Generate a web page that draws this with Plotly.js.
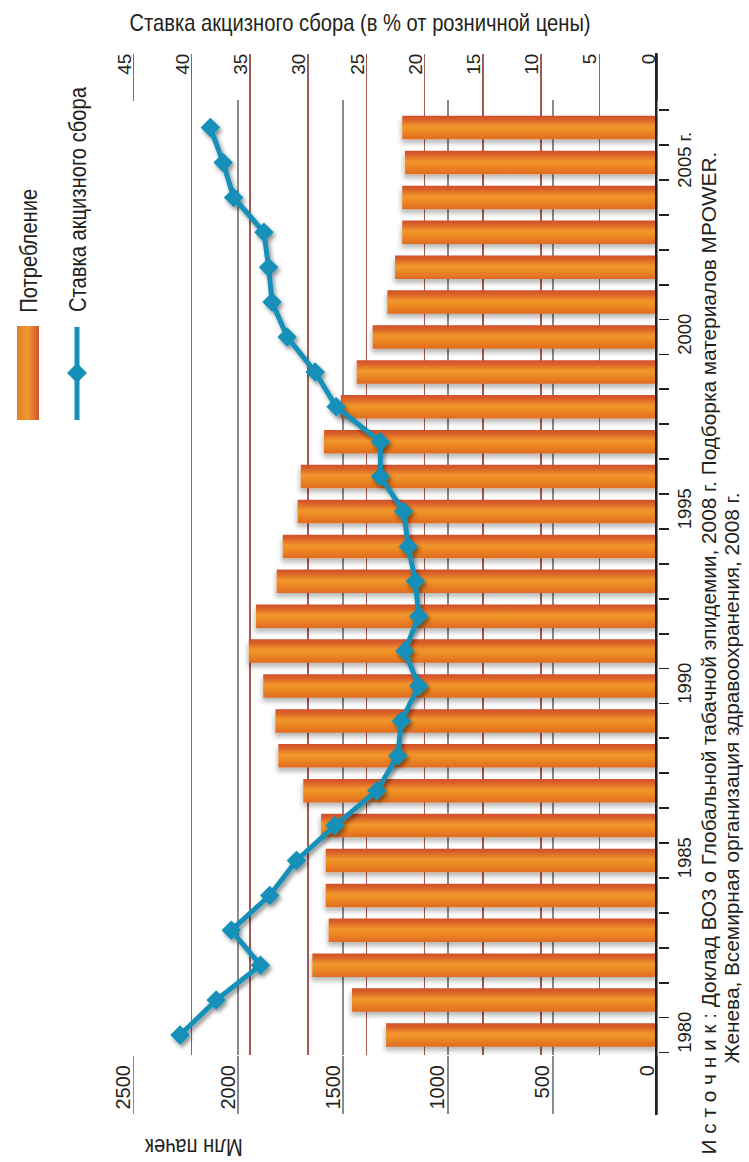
<!DOCTYPE html>
<html>
<head>
<meta charset="utf-8">
<script src="https://cdn.plot.ly/plotly-3.0.1.min.js"></script>
<style>
  html, body { margin: 0; padding: 0; background: #ffffff; }
  #chart { width: 749px; height: 1162px; }
</style>
</head>
<body>
<div id="chart"></div>
<script>
// Cigarette consumption (million packs) and excise tax (% of retail price), 1980–2006
const years = [1980, 1981, 1982, 1983, 1984, 1985, 1986, 1987, 1988, 1989,
               1990, 1991, 1992, 1993, 1994, 1995, 1996, 1997, 1998, 1999,
               2000, 2001, 2002, 2003, 2004, 2005, 2006];
const consumption = [1295, 1458, 1647, 1569, 1583, 1583, 1605, 1690, 1809, 1823,
                     1881, 1950, 1916, 1817, 1788, 1717, 1702, 1591, 1511, 1435,
                     1359, 1289, 1252, 1218, 1218, 1205, 1218];
const exciseRate = [41.0, 37.9, 34.1, 36.6, 33.3, 31.0, 27.7, 24.1, 22.3, 22.0,
                    20.5, 21.7, 20.5, 20.8, 21.4, 21.8, 23.8, 23.8, 27.6, 29.4,
                    31.8, 33.1, 33.4, 33.8, 36.4, 37.3, 38.4];

const yearTickVals = [1980, 1985, 1990, 1995, 2000, 2005];
const yearTickText = ['1980', '1985', '1990', '1995', '2000', '2005 г.'];
const packTicks = [0, 500, 1000, 1500, 2000, 2500];
const rateTicks = [0, 5, 10, 15, 20, 25, 30, 35, 40, 45];

const seriesNames = ['Потребление', 'Ставка акцизного сбора'];
const titleText = 'Ставка акцизного сбора (в % от розничной цены)';
const packAxisTitle = 'Млн пачек';
const sourceLine1 = 'И с т о ч н и к : Доклад ВОЗ о Глобальной табачной эпидемии, 2008 г. Подборка материалов MPOWER.';
const sourceLine2 = 'Женева, Всемирная организация здравоохранения, 2008 г.';

// ---- page geometry (pixels) ----
const W = 749, H = 1162;
const py = v => 1 - v / H;          // page y (px) -> paper fraction
const pxX = v => v / W;             // page x (px) -> paper fraction
const plotLeft = 133.5, plotRight = 657.5, plotTop = 100, plotBottom = 1055;
const rowStep = 34.9, firstRowCenter = 1035;   // vertical spacing of the year rows
const yRange = [years[0] - (plotBottom - firstRowCenter) / rowStep,
                years[0] + (firstRowCenter - plotTop) / rowStep];

const ink = '#231f20';
const gridGrey = '#8a8a8a';
const gridRed = '#a45a54';
const teal = '#1290b8';
const sans = '"Liberation Sans", Arial, sans-serif';
const condensedFactor = 0.84;       // horizontal squeeze for the condensed captions

const bars = {
  type: 'bar', orientation: 'h', name: seriesNames[0],
  x: consumption, y: years, width: 0.673,
  xaxis: 'x', yaxis: 'y',
  marker: { color: '#e8782a', line: { width: 0 } },
  hoverinfo: 'skip'
};

const rateLine = {
  type: 'scatter', mode: 'lines+markers', name: seriesNames[1],
  x: exciseRate, y: years,
  xaxis: 'x2', yaxis: 'y',
  line: { color: teal, width: 5 },
  marker: { symbol: 'diamond', size: 15, color: teal },
  hoverinfo: 'skip'
};

// legend diamond outline in paper units
const dC = { x: 77, y: 373 }, dR = 9.5;
const diamondPath = 'M ' + pxX(dC.x) + ',' + py(dC.y - dR) +
                    ' L ' + pxX(dC.x + dR) + ',' + py(dC.y) +
                    ' L ' + pxX(dC.x) + ',' + py(dC.y + dR) +
                    ' L ' + pxX(dC.x - dR) + ',' + py(dC.y) + ' Z';

const captionFont = { family: sans, size: 24, color: ink };

const layout = {
  width: W, height: H,
  margin: { l: 0, r: 0, t: 0, b: 0 },
  paper_bgcolor: '#ffffff', plot_bgcolor: '#ffffff',
  showlegend: false, hovermode: false, barmode: 'overlay',
  font: { family: sans, color: ink },
  title: {
    text: titleText, font: captionFont,
    x: pxX(360), xanchor: 'center', xref: 'paper',
    y: py(23), yanchor: 'middle'
  },
  xaxis: {
    domain: [pxX(plotLeft), pxX(plotRight)], anchor: 'y', side: 'bottom',
    range: [2500, 0], tickmode: 'array', tickvals: packTicks,
    showgrid: true, gridcolor: gridGrey, gridwidth: 1.8,
    zeroline: false, showline: false,
    ticks: 'outside', ticklen: 58, tickwidth: 1.8, tickcolor: gridGrey,
    tickangle: -90, tickfont: { family: sans, size: 20, color: ink },
    ticklabelstandoff: -57, ticklabelshift: 10,
    fixedrange: true
  },
  xaxis2: {
    overlaying: 'x', anchor: 'free', position: py(53), side: 'bottom',
    range: [45, 0], tickmode: 'array', tickvals: rateTicks,
    showgrid: true, gridcolor: gridRed, gridwidth: 1.5,
    zeroline: false, showline: false,
    ticks: 'outside', ticklen: 47, tickwidth: 1.5, tickcolor: gridRed,
    tickangle: -90, tickfont: { family: sans, size: 19, color: ink },
    ticklabelstandoff: -55, ticklabelshift: 9,
    fixedrange: true
  },
  yaxis: {
    domain: [py(plotBottom), py(plotTop)], anchor: 'x', side: 'right',
    range: yRange, showgrid: false, zeroline: false, showline: false,
    tickmode: 'array', tickvals: yearTickVals, ticktext: yearTickText,
    ticks: '', tickangle: -90,
    tickfont: { family: sans, size: 18.5, color: ink },
    ticklabelstandoff: 14,
    minor: { ticks: 'outside', ticklen: 10, tickwidth: 1.8, tickcolor: ink,
             tickmode: 'linear', tick0: years[0] - 0.5, dtick: 1, showgrid: false },
    fixedrange: true
  },
  shapes: [
    // category axis line
    { type: 'line', xref: 'x', yref: 'paper', x0: 0, x1: 0, y0: py(1115), y1: py(53),
      line: { color: ink, width: 5 }, layer: 'above' },
    // legend: consumption swatch
    { type: 'rect', xref: 'paper', yref: 'paper',
      x0: pxX(17), x1: pxX(39), y0: py(420), y1: py(326),
      fillcolor: 'rgb(232,128,31)', line: { width: 0 } },
    // legend: excise rate line + diamond
    { type: 'line', xref: 'paper', yref: 'paper',
      x0: pxX(77), x1: pxX(77), y0: py(420), y1: py(327),
      line: { color: teal, width: 5 } },
    { type: 'path', xref: 'paper', yref: 'paper', path: diamondPath,
      fillcolor: teal, line: { color: teal, width: 1 } }
  ],
  annotations: [
    { text: seriesNames[0], xref: 'paper', yref: 'paper', x: pxX(28), y: py(250.5),
      xanchor: 'center', yanchor: 'middle', textangle: -90, showarrow: false,
      font: captionFont },
    { text: seriesNames[1], xref: 'paper', yref: 'paper', x: pxX(77), y: py(199.5),
      xanchor: 'center', yanchor: 'middle', textangle: -90, showarrow: false,
      font: captionFont },
    { text: packAxisTitle, xref: 'paper', yref: 'paper', x: pxX(194), y: py(1161),
      xanchor: 'center', yanchor: 'bottom', textangle: 180, showarrow: false,
      borderpad: 0, borderwidth: 0, font: captionFont },
    { text: sourceLine1, xref: 'paper', yref: 'paper', x: pxX(708), y: py(1157),
      xanchor: 'center', yanchor: 'bottom', textangle: -90, showarrow: false,
      font: { family: sans, size: 20.8, color: ink } },
    { text: sourceLine2, xref: 'paper', yref: 'paper', x: pxX(731), y: py(1066),
      xanchor: 'center', yanchor: 'bottom', textangle: -90, showarrow: false,
      font: { family: sans, size: 20.8, color: ink } }
  ]
};

// Squeeze a caption horizontally around its centre so it reads as a condensed face
function condense(el) {
  if (!el || !el.getComputedTextLength) return;
  const len = el.getComputedTextLength();
  el.setAttribute('textLength', (len * condensedFactor).toFixed(1));
  el.setAttribute('lengthAdjust', 'spacingAndGlyphs');
}

Plotly.newPlot('chart', [bars, rateLine], layout, { staticPlot: true, displayModeBar: false })
  .then(gd => {
    condense(gd.querySelector('.gtitle'));
    const ann = gd.querySelectorAll('.annotation-text');
    [0, 1, 2].forEach(i => condense(ann[i]));

    const defs = gd.querySelector('svg.main-svg defs');
    if (!defs) return;
    defs.insertAdjacentHTML('beforeend',
      '<linearGradient id="barFill" x1="0" y1="0" x2="0" y2="1">' +
        '<stop offset="0" stop-color="#d04f2b"/>' +
        '<stop offset="0.18" stop-color="#dc6428"/>' +
        '<stop offset="0.45" stop-color="#f1972d"/>' +
        '<stop offset="0.62" stop-color="#ee8c24"/>' +
        '<stop offset="1" stop-color="#df6b22"/>' +
      '</linearGradient>' +
      '<linearGradient id="swatchFill" x1="0" y1="0" x2="1" y2="0">' +
        '<stop offset="0" stop-color="#e77f1f"/>' +
        '<stop offset="0.5" stop-color="#f09a35"/>' +
        '<stop offset="1" stop-color="#d2552b"/>' +
      '</linearGradient>' +
      '<filter id="barShadow" x="-5%" y="-5%" width="110%" height="110%">' +
        '<feDropShadow dx="-1" dy="4" stdDeviation="2.5" flood-color="#000" flood-opacity="0.28"/>' +
      '</filter>' +
      '<filter id="lineShadow" x="-10%" y="-5%" width="120%" height="110%">' +
        '<feDropShadow dx="2" dy="3" stdDeviation="2.2" flood-color="#000" flood-opacity="0.45"/>' +
      '</filter>');
    gd.querySelectorAll('.barlayer .point path').forEach(p => { p.style.fill = 'url(#barFill)'; });
    gd.querySelectorAll('.barlayer .trace').forEach(g => g.setAttribute('filter', 'url(#barShadow)'));
    gd.querySelectorAll('.scatterlayer .trace').forEach(g => g.setAttribute('filter', 'url(#lineShadow)'));
    gd.querySelectorAll('.shapelayer path').forEach(p => {
      const f = p.style.fill || '';
      if (f.replace(/\s/g, '') === 'rgb(232,128,31)') p.style.fill = 'url(#swatchFill)';
    });
  });
</script>
</body>
</html>
